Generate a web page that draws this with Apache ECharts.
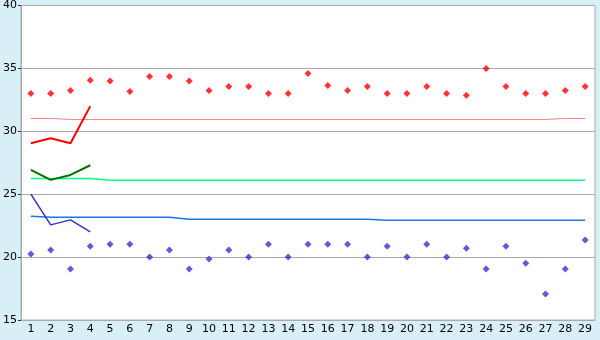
<!DOCTYPE html>
<html><head><meta charset="utf-8">
<script src="https://cdn.jsdelivr.net/npm/echarts@6/dist/echarts.min.js"></script>
<style>html,body{margin:0;padding:0;background:#d8eff7;}#c{width:600px;height:340px;}</style>
</head><body><div id="c"></div>
<script>
var categories = ['1','2','3','4','5','6','7','8','9','10','11','12','13','14','15','16','17','18','19','20','21','22','23','24','25','26','27','28','29'];
var redPoints = [33.0,33.0,33.25,34.05,34.0,33.17,34.36,34.36,34.0,33.25,33.57,33.57,33.0,33.0,34.6,33.65,33.25,33.57,33.0,33.0,33.57,33.0,32.86,35.0,33.57,33.0,33.0,33.25,33.57];
var bluePoints = [20.24,20.56,19.05,20.87,21.03,21.03,20.0,20.56,19.05,19.84,20.56,20.0,21.03,20.0,21.03,21.03,21.03,20.0,20.87,20.0,21.03,20.0,20.71,19.05,20.87,19.52,17.06,19.05,21.35];
var redLine = [29.05,29.45,29.05,32.0];
var greenLine = [26.93,26.14,26.53,27.3];
var blueLine = [25.0,22.56,22.96,22.0];
var pinkLevel = [31.02,31.02,30.94,30.94,30.94,30.94,30.94,30.94,30.94,30.94,30.94,30.94,30.94,30.94,30.94,30.94,30.94,30.94,30.94,30.94,30.94,30.94,30.94,30.94,30.94,30.94,30.94,31.02,31.02];
var greenLevel = [26.25,26.25,26.25,26.25,26.1,26.1,26.1,26.1,26.1,26.1,26.1,26.1,26.1,26.1,26.1,26.1,26.1,26.1,26.1,26.1,26.1,26.1,26.1,26.1,26.1,26.1,26.1,26.1,26.1];
var blueLevel = [23.25,23.17,23.17,23.17,23.17,23.17,23.17,23.17,23.01,23.01,23.01,23.01,23.01,23.01,23.01,23.01,23.01,23.01,22.93,22.93,22.93,22.93,22.93,22.93,22.93,22.93,22.93,22.93,22.93];
var yTicks = {min:15, max:40, interval:5};

var chart = echarts.init(document.getElementById('c'), null, {renderer:'canvas'});
var font = 'DejaVu Sans, Verdana, sans-serif';
function lineSeries(data, color, width, z) {
  return {type:'line', data:data, symbol:'none', lineStyle:{color:color, width:width}, z:z, silent:true};
}
chart.setOption({
  animation:false,
  backgroundColor:'#d8eff7',
  grid:{left:20, right:5, top:5, bottom:20, show:true, backgroundColor:'#ffffff', borderColor:'#aaaaaa', borderWidth:1},
  xAxis:{type:'category', data:categories, boundaryGap:true,
    axisLine:{lineStyle:{color:'#aaaaaa', width:1}},
    axisTick:{alignWithLabel:true, length:5, lineStyle:{color:'#333333'}},
    axisLabel:{color:'#000000', fontFamily:font, fontSize:11, margin:4, interval:0},
    splitLine:{show:false}},
  yAxis:{type:'value', min:yTicks.min, max:yTicks.max, interval:yTicks.interval,
    axisLine:{show:true, lineStyle:{color:'#aaaaaa', width:1}},
    axisTick:{show:true, length:3, lineStyle:{color:'#333333'}},
    axisLabel:{color:'#000000', fontFamily:font, fontSize:11, margin:4},
    splitLine:{show:true, lineStyle:{color:'#aaaaaa', width:1}}},
  series:[
    lineSeries(pinkLevel, '#ff8080', 1, 2),
    lineSeries(greenLevel, '#00ff80', 1.5, 2),
    lineSeries(blueLevel, '#1a78e6', 1.5, 2),
    lineSeries(redLine, '#ff0000', 2, 3),
    lineSeries(greenLine, '#007000', 2, 3),
    lineSeries(blueLine, '#3333cc', 1.5, 3),
    {type:'scatter', data:redPoints, symbol:'diamond', symbolSize:7, itemStyle:{color:'#ff0000'}, z:4},
    {type:'scatter', data:bluePoints, symbol:'diamond', symbolSize:7, itemStyle:{color:'#3333cc'}, z:4}
  ]
});
</script></body></html>
